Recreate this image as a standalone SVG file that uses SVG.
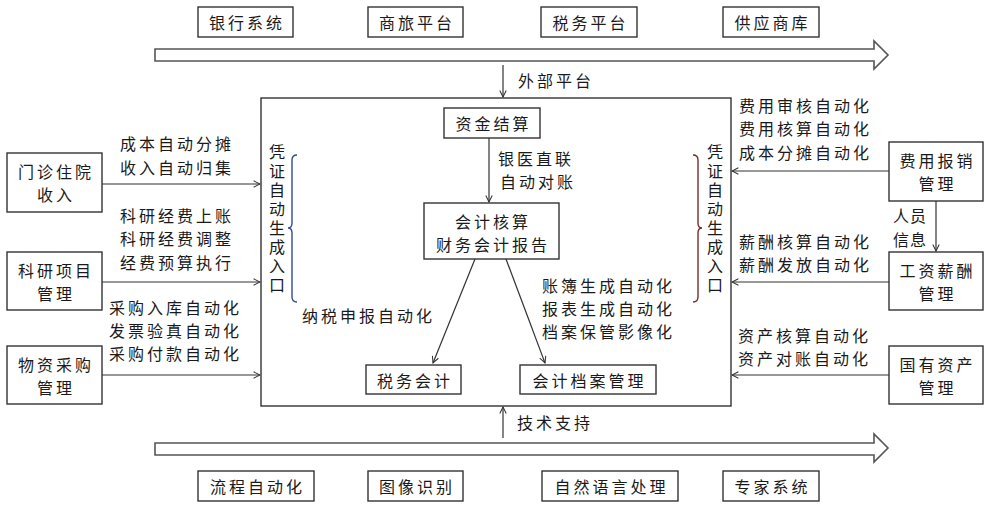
<svg xmlns="http://www.w3.org/2000/svg" width="993" height="512" viewBox="0 0 993 512">
<style>
.box{fill:#fff;stroke:#333;stroke-width:1.4}
.t{font-family:"Noto Sans CJK SC","Noto Sans",sans-serif;font-size:16px;fill:#1a1a1a;letter-spacing:3px;dominant-baseline:central}
.v{font-family:"Noto Sans CJK SC","Noto Sans",sans-serif;font-size:16px;fill:#1a1a1a;letter-spacing:3px;writing-mode:vertical-rl;text-orientation:upright}
.c{text-anchor:middle}
.ln{stroke:#333;stroke-width:1.2;fill:none}
.big{fill:#fff;stroke:#555;stroke-width:1.6}
</style>
<defs>
<marker id="ah" viewBox="0 0 10 10" refX="9" refY="5" markerWidth="8" markerHeight="8" markerUnits="userSpaceOnUse" orient="auto">
<path d="M1,1 L9,5 L1,9" fill="none" stroke="#333" stroke-width="1.3"/>
</marker>
</defs>
<rect width="993" height="512" fill="#fff"/>

<g id="big-arrows">
<path class="big" d="M155,49 H874 V41 L888,55 L874,69 V61 H155 Z"/>
<path class="big" d="M155,443 H874 V434 L888,448 L874,462 V455 H155 Z"/>
</g>

<g id="top-boxes">
<g id="n-bank"><rect class="box" x="198" y="7" width="95" height="30"/><text class="t c" x="247" y="22">银行系统</text></g>
<g id="n-travel"><rect class="box" x="368" y="7" width="95" height="30"/><text class="t c" x="417" y="22">商旅平台</text></g>
<g id="n-tax"><rect class="box" x="541" y="7" width="96" height="30"/><text class="t c" x="590.5" y="22">税务平台</text></g>
<g id="n-supplier"><rect class="box" x="723" y="7" width="96" height="30"/><text class="t c" x="772.5" y="22">供应商库</text></g>
</g>

<g id="n-main"><rect class="box" x="261" y="98" width="470" height="308"/></g>

<g id="n-fund"><rect class="box" x="444" y="108" width="96" height="30"/><text class="t c" x="493.5" y="123">资金结算</text></g>
<g id="n-acct"><rect class="box" x="424" y="203" width="135" height="56"/>
<text class="t c" x="493" y="221">会计核算</text><text class="t c" x="493" y="244">财务会计报告</text></g>
<g id="n-taxacct"><rect class="box" x="366" y="365" width="95" height="29"/><text class="t c" x="415" y="379.5">税务会计</text></g>
<g id="n-archive"><rect class="box" x="520" y="365" width="136" height="29"/><text class="t c" x="589.5" y="379.5">会计档案管理</text></g>

<g id="n-clinic"><rect class="box" x="7" y="153" width="95" height="59"/><text class="t c" x="56" y="171">门诊住院</text><text class="t c" x="56" y="194">收入</text></g>
<g id="n-research"><rect class="box" x="7" y="252" width="95" height="58"/><text class="t c" x="56" y="270">科研项目</text><text class="t c" x="56" y="293">管理</text></g>
<g id="n-purchase"><rect class="box" x="7" y="346" width="95" height="58"/><text class="t c" x="56" y="364">物资采购</text><text class="t c" x="56" y="387">管理</text></g>

<g id="n-expense"><rect class="box" x="889" y="142" width="94" height="59"/><text class="t c" x="937.5" y="160">费用报销</text><text class="t c" x="937.5" y="183">管理</text></g>
<g id="n-salary"><rect class="box" x="889" y="252" width="94" height="58"/><text class="t c" x="937.5" y="270">工资薪酬</text><text class="t c" x="937.5" y="293">管理</text></g>
<g id="n-asset"><rect class="box" x="889" y="346" width="94" height="58"/><text class="t c" x="937.5" y="364">国有资产</text><text class="t c" x="937.5" y="387">管理</text></g>

<g id="bottom-boxes">
<g id="n-rpa"><rect class="box" x="198" y="471" width="116" height="30"/><text class="t c" x="257.5" y="486">流程自动化</text></g>
<g id="n-ocr"><rect class="box" x="368" y="471" width="95" height="30"/><text class="t c" x="417" y="486">图像识别</text></g>
<g id="n-nlp"><rect class="box" x="542" y="471" width="136" height="30"/><text class="t c" x="611.5" y="486">自然语言处理</text></g>
<g id="n-expert"><rect class="box" x="723" y="471" width="96" height="30"/><text class="t c" x="772.5" y="486">专家系统</text></g>
</g>

<g id="connectors">
<line class="ln" x1="503" y1="65" x2="503" y2="97" marker-end="url(#ah)"/>
<line class="ln" x1="503" y1="438" x2="503" y2="407" marker-end="url(#ah)"/>
<line class="ln" x1="489" y1="138" x2="489" y2="202" marker-end="url(#ah)"/>
<line class="ln" x1="475" y1="259" x2="433" y2="363" marker-end="url(#ah)"/>
<line class="ln" x1="506" y1="259" x2="545" y2="363" marker-end="url(#ah)"/>
<line class="ln" x1="102" y1="184" x2="260" y2="184" marker-end="url(#ah)"/>
<line class="ln" x1="102" y1="282" x2="260" y2="282" marker-end="url(#ah)"/>
<line class="ln" x1="102" y1="375" x2="260" y2="375" marker-end="url(#ah)"/>
<line class="ln" x1="889" y1="171" x2="732" y2="171" marker-end="url(#ah)"/>
<line class="ln" x1="889" y1="282" x2="732" y2="282" marker-end="url(#ah)"/>
<line class="ln" x1="889" y1="375" x2="732" y2="375" marker-end="url(#ah)"/>
<line class="ln" x1="936" y1="201" x2="936" y2="251" marker-end="url(#ah)"/>
</g>

<g id="braces">
<path d="M297,155 Q292,155 292,160 L292,223 Q292,228 288,228 Q292,228 292,233 L292,297 Q292,302 297,302" fill="none" stroke="#2f4b9a" stroke-width="1.4"/>
<path d="M693,155 Q698,155 698,160 L698,223 Q698,228 702,228 Q698,228 698,233 L698,297 Q698,302 693,302" fill="none" stroke="#7a2a2a" stroke-width="1.4"/>
</g>

<g id="labels">
<text class="t" x="518" y="80">外部平台</text>
<text class="t" x="517" y="422">技术支持</text>
<text class="t" x="498" y="158">银医直联</text>
<text class="t" x="500" y="181">自动对账</text>
<text class="t" x="120" y="143">成本自动分摊</text>
<text class="t" x="120" y="167">收入自动归集</text>
<text class="t" x="120" y="215">科研经费上账</text>
<text class="t" x="120" y="238">科研经费调整</text>
<text class="t" x="120" y="262">经费预算执行</text>
<text class="t" x="109" y="307">采购入库自动化</text>
<text class="t" x="109" y="330">发票验真自动化</text>
<text class="t" x="109" y="353">采购付款自动化</text>
<text class="t" x="302" y="315">纳税申报自动化</text>
<text class="t" x="542" y="285">账簿生成自动化</text>
<text class="t" x="542" y="308">报表生成自动化</text>
<text class="t" x="542" y="331">档案保管影像化</text>
<text class="t" x="739" y="105">费用审核自动化</text>
<text class="t" x="739" y="128">费用核算自动化</text>
<text class="t" x="739" y="152">成本分摊自动化</text>
<text class="t" x="739" y="241">薪酬核算自动化</text>
<text class="t" x="739" y="264">薪酬发放自动化</text>
<text class="t" x="738" y="335">资产核算自动化</text>
<text class="t" x="738" y="358">资产对账自动化</text>
<text class="t" x="893" y="215" style="letter-spacing:1px">人员</text>
<text class="t" x="893" y="239" style="letter-spacing:1px">信息</text>
<text class="v" x="277" y="144">凭证自动生成入口</text>
<text class="v" x="715" y="144">凭证自动生成入口</text>
</g>
</svg>
